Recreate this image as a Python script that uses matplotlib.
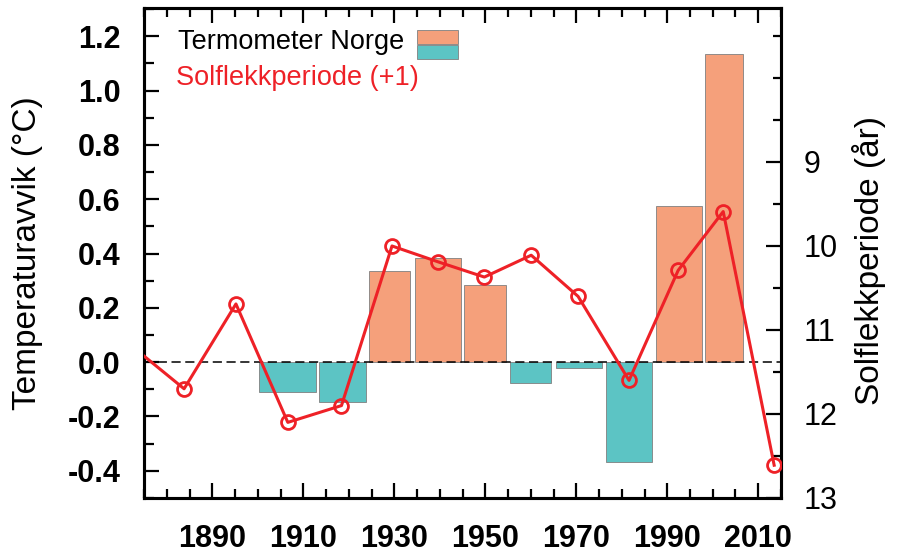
import matplotlib
matplotlib.use('Agg')
import matplotlib.pyplot as plt
from matplotlib.patches import Rectangle
from matplotlib.ticker import MultipleLocator
import numpy as np

plt.rcParams['font.family'] = ['Liberation Sans', 'DejaVu Sans']

# temperature anomaly per solar cycle (Norway)
bar_start = [1900.3, 1913.5, 1924.5, 1934.6, 1945.3, 1955.4, 1965.5, 1976.5, 1987.5, 1998.4]
bar_end = [1912.8, 1923.8, 1933.5, 1944.6, 1954.6, 1964.5, 1975.6, 1986.6, 1997.6, 2006.6]
temp = [-0.11, -0.148, 0.336, 0.382, 0.286, -0.075, -0.023, -0.369, 0.575, 1.134]

# solar cycle length (shifted +1)
cycle_year = [1872.5, 1883.8, 1895.2, 1906.6, 1918.4, 1929.5, 1939.7, 1949.8,
              1960.1, 1970.4, 1981.6, 1992.4, 2002.3, 2013.5]
cycle_len = [11.2, 11.70, 10.69, 12.10, 11.90, 10.0, 10.19, 10.37,
             10.11, 10.60, 11.60, 10.29, 9.59, 12.61]

orange = '#F5A07B'
teal = '#5CC4C4'
red = '#EE2127'

fig = plt.figure(figsize=(8.98, 5.53), dpi=100)
ax = fig.add_axes([0.1604, 0.0995, 0.7093, 0.886])

starts = np.array(bar_start)
widths = np.array(bar_end) - starts
cols = [orange if t > 0 else teal for t in temp]
ax.bar(starts, temp, width=widths, align='edge', color=cols,
       edgecolor='#808080', linewidth=0.6, zorder=2)
ax.axhline(0, color='black', lw=1.1, dashes=(6, 3), zorder=3)

ax.set_xlim(1875, 2015)
ax.set_ylim(-0.5, 1.304)
ax.set_xticks(np.arange(1890, 2011, 20))
ax.xaxis.set_minor_locator(MultipleLocator(5))
ax.yaxis.set_minor_locator(MultipleLocator(0.1))
ax.set_yticks(np.arange(-0.4, 1.21, 0.2))
ax.set_yticklabels(['%.1f' % v for v in np.arange(-0.4, 1.21, 0.2)])
ax.tick_params(axis='both', which='both', direction='in', width=1.6)
ax.tick_params(axis='x', which='both', top=True)
ax.tick_params(axis='x', which='major', length=11, pad=19, labelsize=22)
ax.tick_params(axis='x', which='minor', length=6.5)
ax.tick_params(axis='y', which='major', length=11, pad=17, labelsize=22)
ax.tick_params(axis='y', which='minor', length=7)
for lab in ax.get_xticklabels() + ax.get_yticklabels():
    lab.set_fontweight('bold')
for s in ax.spines.values():
    s.set_linewidth(2.2)
ax.set_ylabel('Temperaturavvik (°C)', fontsize=24)
ax.yaxis.set_label_coords(-0.158, 0.5)

ax2 = ax.twinx()
ax2.plot(cycle_year, cycle_len, color=red, lw=2.2, marker='o', ms=10,
         mfc='none', mec=red, mew=2, zorder=4)
ax2.set_ylim(13, 7.167)
ax2.yaxis.set_minor_locator(MultipleLocator(0.5))
ax2.set_yticks([9, 10, 11, 12, 13])
ax2.tick_params(axis='y', which='both', direction='in', width=1.6)
ax2.tick_params(axis='y', which='major', length=11, pad=16, labelsize=22)
ax2.tick_params(axis='y', which='minor', length=6)
for s in ax2.spines.values():
    s.set_linewidth(2.2)
ax2.set_ylabel('Solflekkperiode (år)', fontsize=24)
ax2.yaxis.set_label_coords(1.112, 0.485)

# legend drawn by hand
ax.text(0.053, 0.931, 'Termometer Norge', transform=ax.transAxes,
        fontsize=19.5, va='center', ha='left', color='black')
ax.text(0.050, 0.857, 'Solflekkperiode (+1)', transform=ax.transAxes,
        fontsize=19.5, va='center', ha='left', color=red)
ax.add_patch(Rectangle((0.4286, 0.9265), 0.0644, 0.0285, transform=ax.transAxes,
                       facecolor=orange, edgecolor='#808080', lw=0.6, zorder=5))
ax.add_patch(Rectangle((0.4286, 0.896), 0.0644, 0.0285, transform=ax.transAxes,
                       facecolor=teal, edgecolor='#808080', lw=0.6, zorder=5))

fig.savefig('out.png', dpi=100)
